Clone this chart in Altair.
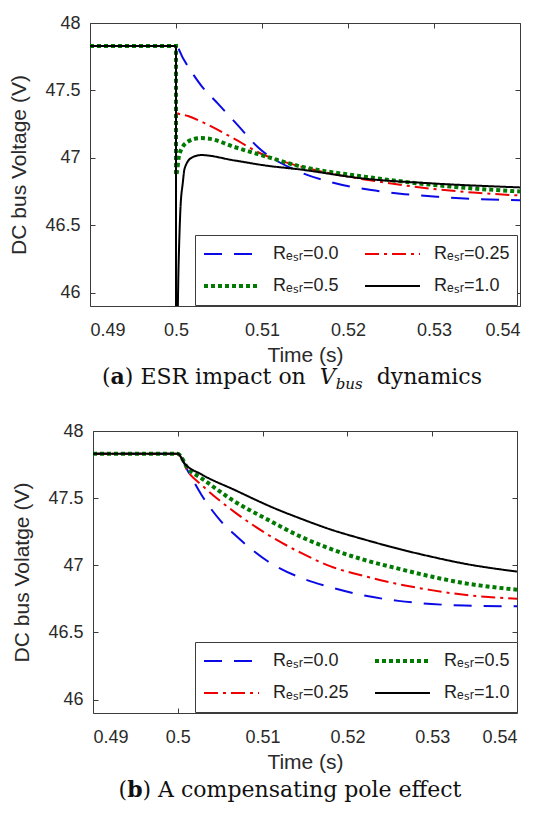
import glob
import altair as alt
import pandas as pd

# ---------------- data ----------------
# panel (a): ESR impact on V_bus dynamics
a_t_00 = [0.49, 0.5, 0.5008, 0.503, 0.5049, 0.5072, 0.5095, 0.5142, 0.518, 0.5227, 0.5266, 0.5305, 0.5343, 0.54]
a_v_00 = [47.83, 47.83, 47.74, 47.53, 47.40, 47.24, 47.08, 46.90, 46.82, 46.76, 46.73, 46.71, 46.695, 46.685]
a_t_025 = [0.49, 0.5, 0.5, 0.5014, 0.5037, 0.5068, 0.5099, 0.5142, 0.52, 0.5239, 0.5297, 0.535, 0.54]
a_v_025 = [47.83, 47.83, 47.335, 47.31, 47.245, 47.14, 47.03, 46.94, 46.86, 46.82, 46.77, 46.74, 46.72]
a_t_05 = [0.49, 0.5, 0.5, 0.5004, 0.5014, 0.5028, 0.504, 0.5068, 0.5107, 0.5142, 0.5219, 0.5297, 0.535, 0.54]
a_v_05 = [47.83, 47.83, 46.87, 47.03, 47.12, 47.146, 47.14, 47.08, 47.005, 46.94, 46.86, 46.80, 46.77, 46.75]
a_t_10 = [0.49, 0.5, 0.5, 0.5003, 0.5005, 0.5008, 0.501, 0.5018, 0.5029, 0.5068, 0.5107, 0.5142, 0.5219, 0.5297, 0.54]
a_v_10 = [47.83, 47.83, 45.2, 46.2, 46.6, 46.82, 46.92, 47.0, 47.02, 46.98, 46.94, 46.915, 46.845, 46.81, 46.78]

# panel (b): a compensating pole effect
b_t_00 = [0.49, 0.5, 0.5012, 0.5028, 0.5051, 0.5067, 0.5106, 0.515, 0.5181, 0.522, 0.526, 0.5299, 0.5338, 0.54]
b_v_00 = [47.83, 47.83, 47.70, 47.524, 47.327, 47.229, 47.03, 46.895, 46.835, 46.775, 46.735, 46.712, 46.70, 46.695]
b_t_025 = [0.49, 0.5, 0.5012, 0.5028, 0.5067, 0.5106, 0.5146, 0.5181, 0.522, 0.526, 0.5299, 0.5338, 0.54]
b_v_025 = [47.83, 47.83, 47.697, 47.598, 47.396, 47.229, 47.09, 46.99, 46.92, 46.86, 46.815, 46.78, 46.75]
b_t_05 = [0.49, 0.5, 0.5012, 0.5028, 0.5067, 0.5106, 0.5146, 0.5181, 0.522, 0.526, 0.5299, 0.5338, 0.54]
b_v_05 = [47.83, 47.83, 47.72, 47.648, 47.475, 47.34, 47.21, 47.12, 47.04, 46.975, 46.916, 46.867, 46.818]
b_t_10 = [0.49, 0.5, 0.5008, 0.5028, 0.5067, 0.5112, 0.5146, 0.5181, 0.522, 0.526, 0.5299, 0.5338, 0.54]
b_v_10 = [47.83, 47.83, 47.758, 47.677, 47.561, 47.43, 47.345, 47.265, 47.192, 47.123, 47.064, 47.012, 46.953]

x_ticks = [0.49, 0.5, 0.51, 0.52, 0.53, 0.54]
y_ticks = [46, 46.5, 47, 47.5, 48]

# ---------------- styles ----------------
SANS = "Liberation Sans"
SERIF = "DejaVu Serif"
FRAME = "#3c3c3c"
TXT = "#2a2a2a"
COLORS = {"0.0": "#0a0ae6", "0.25": "#ee0000", "0.5": "#007a00", "1.0": "#000000"}
DASHES = {"0.0": [18, 12], "0.25": [14, 5, 3, 5], "0.5": [4, 3], "1.0": [1, 0]}
WIDTHS = {"0.0": 2, "0.25": 2, "0.5": 4, "1.0": 2}


def long_table(parts):
    rows = []
    for name, ts, vs in parts:
        for i, (t, v) in enumerate(zip(ts, vs)):
            rows.append({"R": name, "t": t, "v": v, "i": i})
    return pd.DataFrame(rows)


df_a = long_table([("0.0", a_t_00, a_v_00), ("0.25", a_t_025, a_v_025),
                   ("0.5", a_t_05, a_v_05), ("1.0", a_t_10, a_v_10)])
df_b = long_table([("0.0", b_t_00, b_v_00), ("0.25", b_t_025, b_v_025),
                   ("0.5", b_t_05, b_v_05), ("1.0", b_t_10, b_v_10)])

# --- text width helper for the mixed-style captions ---
_APPROX = {' ': .318, '(': .390, ')': .390, 'E': .730, 'S': .685, 'R': .770, 'A': .722,
           'i': .320, 'm': .948, 'p': .640, 'a': .596, 'c': .560, 't': .402, 'o': .602,
           'n': .644, 'd': .640, 'y': .565, 's': .513, 'g': .640, 'l': .320, 'e': .592,
           'f': .370, 'b': .640, 'u': .644, 'V': .722}


def _font_file(weight, style):
    name = "DejaVuSerif"
    if weight == "bold" and style == "italic":
        name += "-BoldItalic"
    elif weight == "bold":
        name += "-Bold"
    elif style == "italic":
        name += "-Italic"
    hits = [p for p in glob.glob("/usr/share/fonts/**/*.ttf", recursive=True)
            if p.split("/")[-1] == name + ".ttf"]
    return hits[0] if hits else None


def text_width(s, size, weight="normal", style="normal"):
    try:
        from PIL import ImageFont
        path = _font_file(weight, style)
        if path:
            return ImageFont.truetype(path, size).getlength(s)
    except Exception:
        pass
    k = 1.1 if weight == "bold" else 1.0
    return sum(_APPROX.get(ch, .6) for ch in s) * size * k


def caption_layers(segments, center_x, base_y):
    widths = [text_width(s, sz, w, st) for s, sz, w, st, dy in segments]
    x = center_x - sum(widths) / 2.0
    out = []
    for (s, sz, w, st, dy), wd in zip(segments, widths):
        lead = len(s) - len(s.lstrip(" "))
        shift = text_width(" " * lead, sz, w, st) if lead else 0
        out.append(
            alt.Chart(pd.DataFrame({"s": [s.strip(" ")]}))
            .mark_text(align="left", baseline="alphabetic", font=SERIF, fontSize=sz,
                       fontWeight=w, fontStyle=st, color="#111111")
            .encode(x=alt.value(x + shift), y=alt.value(base_y + dy), text="s:N")
        )
        x += wd
    return out


def panel(df, order, width, height, legend_xy, caption, cap_center, cap_y, ytitle):
    xs = alt.Scale(domain=[0.49, 0.54], nice=False, zero=False)
    ys = alt.Scale(domain=[45.9, 48], nice=False, zero=False)
    leg = alt.Legend(orient="none", legendX=legend_xy[0], legendY=legend_xy[1], columns=2,
                     title=None, symbolType="stroke", symbolSize=3025, clipHeight=24,
                     rowPadding=8, columnPadding=24, padding=7, labelOffset=12,
                     labelFont=SANS, labelFontSize=18, labelColor="#222222",
                     strokeColor=FRAME, fillColor="white",
                     labelExpr="'R\u2091\u209b\u1d63=' + datum.label")
    base = alt.Chart(df)
    lines = base.mark_line(clip=True, interpolate="monotone", strokeCap="butt").encode(
        x=alt.X("t:Q", scale=xs, axis=alt.Axis(values=x_ticks, format=".2~f", title="Time (s)",
                                              ticks=False, tickSize=0, domain=False, grid=False,
                                              labelPadding=15, titlePadding=5)),
        y=alt.Y("v:Q", scale=ys, axis=alt.Axis(values=y_ticks, format=".1~f", title=ytitle,
                                              ticks=False, tickSize=0, domain=False, grid=False,
                                              labelPadding=10, titlePadding=15)),
        color=alt.Color("R:N", scale=alt.Scale(domain=order, range=[COLORS[k] for k in order]), legend=leg),
        strokeDash=alt.StrokeDash("R:N", scale=alt.Scale(domain=order, range=[DASHES[k] for k in order]), legend=leg),
        strokeWidth=alt.StrokeWidth("R:N", scale=alt.Scale(type="ordinal", domain=order,
                                                           range=[WIDTHS[k] for k in order]), legend=leg),
        order=alt.Order("i:Q"),
    )

    def tick_layer(xo, yo):
        return base.mark_line(opacity=0, clip=True).encode(
            x=alt.X("t:Q", scale=xs, axis=alt.Axis(orient=xo, offset=-5, values=x_ticks, labels=False,
                                                  domain=False, grid=False, tickSize=5, tickColor=FRAME,
                                                  title=None)),
            y=alt.Y("v:Q", scale=ys, axis=alt.Axis(orient=yo, offset=-5, values=y_ticks, labels=False,
                                                  domain=False, grid=False, tickSize=5, tickColor=FRAME,
                                                  title=None)),
            detail="R:N",
        )

    if caption == "a":
        segs = [("(", 22, "normal", "normal", 0), ("a", 22, "bold", "normal", 0),
                (") ESR impact on  ", 22, "normal", "normal", 0), ("V", 22, "normal", "italic", 0),
                ("bus", 15, "normal", "italic", 5), ("  dynamics", 22, "normal", "normal", 0)]
    else:
        segs = [("(", 22, "normal", "normal", 0), ("b", 22, "bold", "normal", 0),
                (") A compensating pole effect", 22, "normal", "normal", 0)]
    caps = caption_layers(segs, cap_center, cap_y)

    return alt.layer(lines, tick_layer("bottom", "left"), tick_layer("top", "right"), *caps).resolve_axis(
        x="independent", y="independent").properties(width=width, height=height)


# legend fills column by column
top = panel(df_a, ["0.0", "0.5", "0.25", "1.0"], 430, 283, (105, 212), "a", 202, 361,
            "DC bus Voltage (V)")
bottom = panel(df_b, ["0.0", "0.25", "0.5", "1.0"], 424, 282, (102, 211), "b", 197, 366,
               "DC bus Volatge (V)")

chart = alt.vconcat(top, bottom, spacing=28, center=True).resolve_scale(
    color="independent", strokeDash="independent", strokeWidth="independent"
).resolve_legend(
    color="independent", strokeDash="independent", strokeWidth="independent"
).properties(
    padding={"left": 0, "top": 5, "right": 5, "bottom": 5},
    background="white",
).configure_view(stroke=FRAME, strokeWidth=1).configure_axis(
    labelFont=SANS, labelFontSize=18, labelColor=TXT, titleFont=SANS, titleFontSize=21,
    titleColor=TXT, titleFontWeight="normal", grid=False
)

chart.save("out.html", embed_options={"renderer": "svg", "actions": False})
